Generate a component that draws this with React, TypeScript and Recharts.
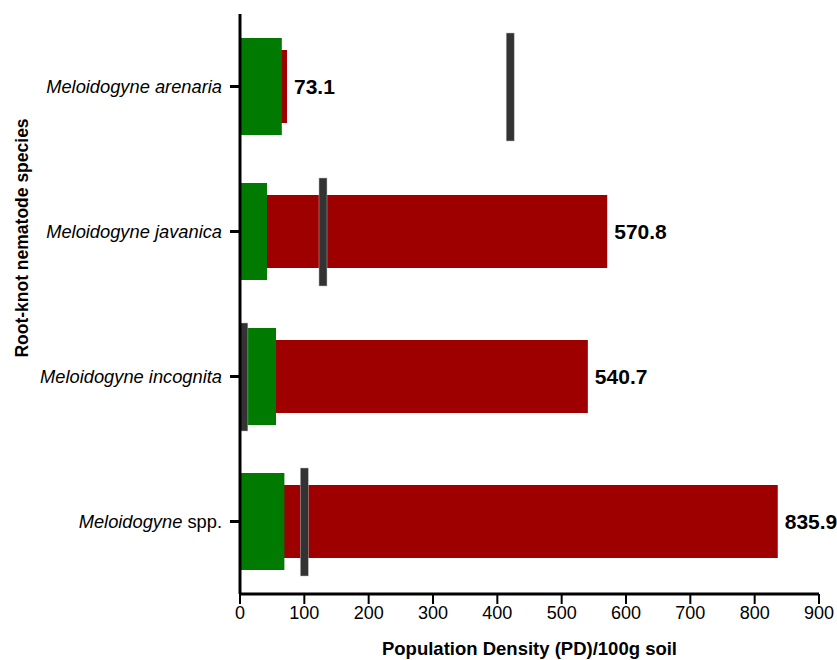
import { BarChart, Bar, XAxis, YAxis, LabelList } from "recharts";

const species = ["Meloidogyne arenaria", "Meloidogyne javanica", "Meloidogyne incognita", "Meloidogyne spp."];
const totalPD = [73.1, 570.8, 540.7, 835.9];
const greenPD = [65, 42, 56, 69];
const markerPD = [420, 129, 6, 100];
const xTicks = [0, 100, 200, 300, 400, 500, 600, 700, 800, 900];

const FONT = "'Liberation Sans', Arial, sans-serif";

const data = species.map((s, i) => ({
  species: s,
  total: totalPD[i],
  green: greenPD[i],
  marker: markerPD[i],
}));

function SpeciesTick(props: any) {
  const { x, y, payload } = props;
  const [genus, rest] = String(payload.value).split(" ");
  return (
    <text x={x - 6} y={y} dy={6} textAnchor="end" fontSize={18.3} fontFamily={FONT} fill="#000">
      <tspan fontStyle="italic">{genus}</tspan>
      <tspan fontStyle={rest === "spp." ? "normal" : "italic"}>{" " + rest}</tspan>
    </text>
  );
}

function MarkerShape(props: any) {
  const { x, y, width, height } = props;
  return (
    <rect x={x + width - 4} y={y} width={8} height={height} fill="#333333" stroke="#bbbbbb" strokeWidth={0.5} />
  );
}

export default function App() {
  return (
    <div style={{ position: "absolute", left: 0, top: 0, background: "#fff" }}>
      <BarChart
        width={837}
        height={660}
        data={data}
        layout="vertical"
        margin={{ top: 14, right: 18, left: 0, bottom: 0 }}
      >
        <XAxis
          type="number"
          domain={[0, 900]}
          ticks={xTicks}
          height={66}
          tickSize={10}
          axisLine={{ stroke: "#000", strokeWidth: 3 }}
          tickLine={{ stroke: "#000", strokeWidth: 2 }}
          tick={{ fontSize: 18, fill: "#000", fontFamily: FONT }}
          label={{
            value: "Population Density (PD)/100g soil",
            position: "insideBottom",
            offset: 5,
            style: { fontSize: 18.5, fontWeight: "bold", fill: "#000", fontFamily: FONT },
          }}
        />
        <YAxis yAxisId="g" type="category" dataKey="species" hide width={0} />
        <YAxis yAxisId="m" type="category" dataKey="species" hide width={0} />
        <YAxis
          yAxisId="main"
          type="category"
          dataKey="species"
          width={240}
          tickSize={10}
          axisLine={{ stroke: "#000", strokeWidth: 3 }}
          tickLine={{ stroke: "#000", strokeWidth: 3 }}
          tick={<SpeciesTick />}
          label={{
            content: () => (
              <text
                x={28}
                y={238}
                transform="rotate(-90 28 238)"
                textAnchor="middle"
                fontSize={17.5}
                fontWeight="bold"
                fontFamily={FONT}
                fill="#000"
              >
                Root-knot nematode species
              </text>
            ),
          }}
        />
        <Bar yAxisId="main" dataKey="total" fill="#9e0000" barSize={73} isAnimationActive={false}>
          <LabelList
            dataKey="total"
            position="right"
            offset={7}
            formatter={(v: any) => Number(v).toFixed(1)}
            style={{ fontSize: 21, fontWeight: "bold", fill: "#000", fontFamily: FONT }}
          />
        </Bar>
        <Bar yAxisId="g" dataKey="green" fill="#007a00" barSize={97} isAnimationActive={false} />
        <Bar yAxisId="m" dataKey="marker" barSize={108} shape={<MarkerShape />} isAnimationActive={false} />
      </BarChart>
    </div>
  );
}
